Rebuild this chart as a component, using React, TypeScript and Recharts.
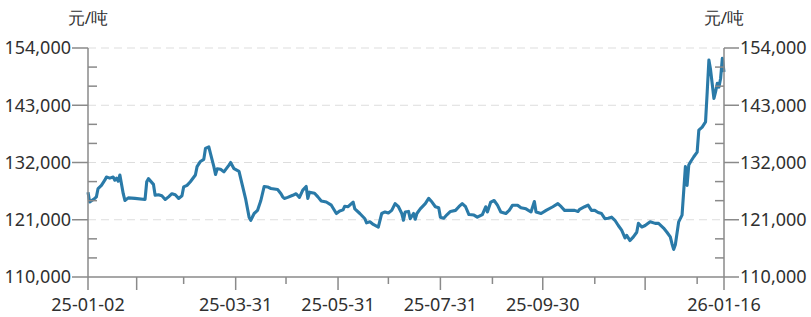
import { LineChart, Line, XAxis, YAxis, ReferenceLine } from "recharts";

// daily price, 元/吨
const dates = [
  "2025-01-02", "2025-01-03", "2025-01-06", "2025-01-07", "2025-01-08", "2025-01-10",
  "2025-01-12", "2025-01-13", "2025-01-15", "2025-01-17", "2025-01-18", "2025-01-19",
  "2025-01-20", "2025-01-21", "2025-01-23", "2025-01-24", "2025-01-26", "2025-01-30",
  "2025-02-05", "2025-02-06", "2025-02-07", "2025-02-10", "2025-02-11", "2025-02-13",
  "2025-02-15", "2025-02-17", "2025-02-19", "2025-02-21", "2025-02-23", "2025-02-25",
  "2025-02-27", "2025-02-28", "2025-03-02", "2025-03-04", "2025-03-07", "2025-03-08",
  "2025-03-10", "2025-03-12", "2025-03-13", "2025-03-15", "2025-03-16", "2025-03-18",
  "2025-03-19", "2025-03-20", "2025-03-22", "2025-03-24", "2025-03-27", "2025-03-28",
  "2025-03-30", "2025-04-02", "2025-04-04", "2025-04-06", "2025-04-08", "2025-04-09",
  "2025-04-11", "2025-04-13", "2025-04-15", "2025-04-17", "2025-04-19", "2025-04-21",
  "2025-04-25", "2025-04-27", "2025-04-28", "2025-04-29", "2025-05-01", "2025-05-04",
  "2025-05-06", "2025-05-08", "2025-05-10", "2025-05-12", "2025-05-13", "2025-05-14",
  "2025-05-17", "2025-05-19", "2025-05-21", "2025-05-24", "2025-05-27", "2025-05-30",
  "2025-06-01", "2025-06-03", "2025-06-04", "2025-06-06", "2025-06-09", "2025-06-10",
  "2025-06-13", "2025-06-16", "2025-06-17", "2025-06-19", "2025-06-21", "2025-06-24",
  "2025-06-26", "2025-06-28", "2025-06-30", "2025-07-02", "2025-07-04", "2025-07-06",
  "2025-07-08", "2025-07-09", "2025-07-10", "2025-07-12", "2025-07-13", "2025-07-15",
  "2025-07-16", "2025-07-17", "2025-07-19", "2025-07-22", "2025-07-24", "2025-07-26",
  "2025-07-28", "2025-07-30", "2025-07-31", "2025-08-02", "2025-08-04", "2025-08-06",
  "2025-08-09", "2025-08-11", "2025-08-13", "2025-08-15", "2025-08-17", "2025-08-20",
  "2025-08-22", "2025-08-25", "2025-08-27", "2025-08-28", "2025-08-30", "2025-09-01",
  "2025-09-03", "2025-09-05", "2025-09-08", "2025-09-10", "2025-09-12", "2025-09-15",
  "2025-09-17", "2025-09-20", "2025-09-23", "2025-09-25", "2025-09-26", "2025-09-29",
  "2025-10-02", "2025-10-06", "2025-10-09", "2025-10-11", "2025-10-13", "2025-10-16",
  "2025-10-19", "2025-10-21", "2025-10-22", "2025-10-25", "2025-10-27", "2025-10-29",
  "2025-10-31", "2025-11-02", "2025-11-04", "2025-11-06", "2025-11-08", "2025-11-10",
  "2025-11-12", "2025-11-14", "2025-11-16", "2025-11-18", "2025-11-19", "2025-11-21",
  "2025-11-23", "2025-11-25", "2025-11-26", "2025-11-28", "2025-11-30", "2025-12-03",
  "2025-12-06", "2025-12-08", "2025-12-11", "2025-12-13", "2025-12-15", "2025-12-16",
  "2025-12-17", "2025-12-18", "2025-12-20", "2025-12-22", "2025-12-24", "2025-12-25",
  "2025-12-26", "2025-12-27", "2025-12-29", "2025-12-31", "2026-01-01", "2026-01-03",
  "2026-01-05", "2026-01-06", "2026-01-07", "2026-01-08", "2026-01-10", "2026-01-11",
  "2026-01-12", "2026-01-13", "2026-01-14", "2026-01-15", "2026-01-16",
];

const prices = [
  126300, 124400, 125100, 125400, 127000, 127600,
  128600, 129200, 129000, 129200, 128600, 129000,
  128400, 129600, 126000, 124700, 125200, 125100,
  124900, 128300, 128900, 127800, 125700, 125800,
  125600, 124900, 125400, 126000, 125800, 125100,
  125600, 127300, 127600, 128300, 129600, 131200,
  132200, 132600, 134700, 135000, 133700, 131200,
  129700, 130800, 130700, 130200, 131500, 132000,
  130800, 130300, 127600, 124900, 121500, 120900,
  122200, 122800, 124700, 127400, 127300, 127000,
  126800, 126000, 125400, 125100, 125300, 125700,
  126000, 125300, 126700, 127400, 125100, 126300,
  126100, 125400, 124600, 124400, 123800, 122200,
  122700, 122900, 123600, 123500, 124400, 123100,
  122200, 121200, 120400, 120600, 120100, 119600,
  122200, 122500, 122300, 122800, 124100, 123500,
  122200, 120900, 122500, 122600, 121200, 122200,
  121100, 122200, 123100, 124100, 125100, 124400,
  123500, 123300, 121500, 121300, 122000, 122600,
  122800, 123500, 124100, 123500, 122000, 121900,
  121500, 122000, 123500, 122500, 124400, 124700,
  123800, 122500, 122200, 122800, 123800, 123800,
  123300, 123100, 122500, 124500, 122500, 122200,
  122800, 123500, 124100, 123500, 122800, 122800,
  122800, 122600, 123000, 123500, 123800, 122800,
  122800, 122400, 122200, 121200, 121300, 121500,
  120900, 119900, 119000, 117500, 118000, 117000,
  117700, 118600, 120300, 119600, 119900, 120600,
  120300, 120300, 119400, 118600, 117700, 116400,
  115300, 116200, 120600, 121900, 131200, 127600,
  131500, 132100, 133100, 134000, 138200, 138800,
  139800, 145600, 151700, 149800, 144300, 145600,
  147200, 146500, 148200, 152000, 149400,
];

const xTickDates = [
  "2025-01-02", "2025-01-31", "2025-02-28", "2025-03-31", "2025-04-30",
  "2025-05-31", "2025-06-30", "2025-07-31", "2025-08-31", "2025-09-30",
  "2025-10-31", "2025-11-30", "2025-12-31", "2026-01-16",
];
const xTickLabels = [
  "25-01-02", "", "", "25-03-31", "", "25-05-31", "", "25-07-31", "",
  "25-09-30", "", "", "", "26-01-16",
];
const xLongTicks = [
  "2025-01-02", "2025-01-31", "2025-03-31", "2025-05-31", "2025-07-31",
  "2025-09-30", "2025-11-30", "2026-01-16",
];

const yTicks = [
  110000, 113667, 117333, 121000, 124667, 128333, 132000,
  135667, 139333, 143000, 146667, 150333, 154000,
];
const yLabels = [110000, 121000, 132000, 143000, 154000];
const gridValues = [121000, 132000, 143000, 154000];

const DAY = 86400000;
const t0 = Date.parse(dates[0]);
const toDay = (d: string) => Math.round((Date.parse(d) - t0) / DAY);

const data = dates.map((d, i) => ({ day: toDay(d), price: prices[i] }));
const xTicks = xTickDates.map(toDay);
const longDays = xLongTicks.map(toDay);
const lastDay = xTicks[xTicks.length - 1];

const AXIS = "#8a8a8a";
const TEXT = "#303030";
const FONT = "'Noto Sans', sans-serif";
const fmt = (v: number) => v.toLocaleString("en-US");

const LeftTick = (props: any) => {
  const { x, y, payload } = props;
  const major = yLabels.includes(payload.value);
  return (
    <g>
      {major ? (
        <line x1={x - 16} x2={x} y1={y} y2={y} stroke={AXIS} strokeWidth={1.5} />
      ) : (
        <line x1={x} x2={x + 9} y1={y} y2={y} stroke={AXIS} strokeWidth={1.5} />
      )}
      {major && (
        <text x={x - 17} y={y} dy="0.36em" textAnchor="end" fill={TEXT} fontSize={18} fontFamily={FONT}>
          {fmt(payload.value)}
        </text>
      )}
    </g>
  );
};

const RightTick = (props: any) => {
  const { x, y, payload } = props;
  const major = yLabels.includes(payload.value);
  return (
    <g>
      {major ? (
        <line x1={x} x2={x + 15} y1={y} y2={y} stroke={AXIS} strokeWidth={1.5} />
      ) : (
        <line x1={x - 9} x2={x} y1={y} y2={y} stroke={AXIS} strokeWidth={1.5} />
      )}
      {major && (
        <text x={x + 16} y={y} dy="0.36em" textAnchor="start" fill={TEXT} fontSize={18} fontFamily={FONT}>
          {fmt(payload.value)}
        </text>
      )}
    </g>
  );
};

const BottomTick = (props: any) => {
  const { x, y, payload } = props;
  const i = xTicks.indexOf(payload.value);
  const long = longDays.includes(payload.value);
  const label = xTickLabels[i];
  return (
    <g>
      <line x1={x} x2={x} y1={y} y2={y + (long ? 13 : 7)} stroke={AXIS} strokeWidth={1.5} />
      {label && (
        <text x={x} y={y + 34} textAnchor="middle" fill={TEXT} fontSize={18} fontFamily={FONT}>
          {label}
        </text>
      )}
    </g>
  );
};

const UnitLabel = (props: any) => {
  const { viewBox, side } = props;
  const x = side === "left" ? viewBox.x + viewBox.width : viewBox.x;
  return (
    <text x={x} y={24} textAnchor="middle" fill={TEXT} fontSize={17} fontFamily={FONT}>
      元/吨
    </text>
  );
};

export default function App() {
  return (
    <div style={{ position: "absolute", left: 0, top: 0, width: 811, height: 317, background: "#fff" }}>
      <LineChart width={811} height={317} data={data} margin={{ top: 48, right: 0, bottom: 0, left: 0 }}>
        <XAxis
          dataKey="day"
          type="number"
          domain={[0, lastDay]}
          ticks={xTicks}
          interval={0}
          height={40}
          tickSize={0}
          tickMargin={0}
          tickLine={false}
          axisLine={{ stroke: AXIS, strokeWidth: 1.5 }}
          tick={<BottomTick />}
        />
        <YAxis
          yAxisId="left"
          orientation="left"
          width={88}
          domain={[110000, 154000]}
          ticks={yTicks}
          interval={0}
          tickSize={0}
          tickMargin={0}
          tickLine={false}
          axisLine={{ stroke: AXIS, strokeWidth: 1.5 }}
          tick={<LeftTick />}
          label={<UnitLabel side="left" />}
        />
        <YAxis
          yAxisId="right"
          orientation="right"
          width={87}
          domain={[110000, 154000]}
          ticks={yTicks}
          interval={0}
          tickSize={0}
          tickMargin={0}
          tickLine={false}
          axisLine={{ stroke: AXIS, strokeWidth: 1.5 }}
          tick={<RightTick />}
          label={<UnitLabel side="right" />}
        />
        {gridValues.map((v) => (
          <ReferenceLine key={v} yAxisId="left" y={v} stroke="#dddddd" strokeWidth={1.2} strokeDasharray="8 5" />
        ))}
        {/* same series mirrored on the right scale, kept invisible so that axis gets its ticks */}
        <Line
          yAxisId="right"
          type="linear"
          dataKey="price"
          stroke="none"
          dot={false}
          activeDot={false}
          isAnimationActive={false}
        />
        <Line
          yAxisId="left"
          type="linear"
          dataKey="price"
          stroke="#2a7aa8"
          strokeWidth={3.1}
          strokeLinejoin="round"
          dot={false}
          isAnimationActive={false}
        />
      </LineChart>
    </div>
  );
}
